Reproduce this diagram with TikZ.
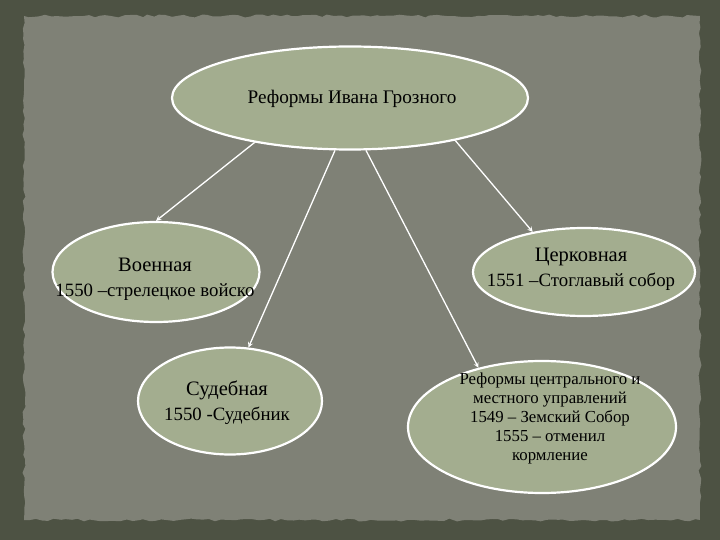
\documentclass[tikz,border=0pt]{standalone}
\usepackage{fontspec}
\setmainfont{Liberation Serif}
\usetikzlibrary{arrows, shapes.geometric, decorations.pathmorphing}
\definecolor{paper}{HTML}{7F8176}
\definecolor{frame}{HTML}{4D5243}
\definecolor{leaf}{HTML}{A3AD8F}
\tikzset{
	reform/.style={ellipse, draw=white, line width=2.2pt, fill=leaf, inner sep=0pt},
	txt/.style={align=center, inner sep=0pt, text=black},
	arr/.style={draw=white, line width=1.3pt, ->, -stealth},
}
\newcommand{\headfont}{\fontsize{20.5}{25}\selectfont}
\newcommand{\datefont}{\fontsize{18.8}{22}\selectfont}
\newcommand{\lowfont}{\fontsize{16.8}{19}\selectfont}

\begin{document}
\begin{tikzpicture}[x=1pt, y=-1pt]
		\useasboundingbox (0,0) rectangle (720,540);
			%background:
			\fill[frame] (0,0) rectangle (720,540);
			\fill[paper, decorate, decoration={random steps, segment length=6pt, amplitude=1.5pt}] (24,16) rectangle (700,520);

			%reforms:
			\node[reform, minimum width=356pt, minimum height=103pt] (main) at (350,98) {};
			\node[reform, minimum width=207pt, minimum height=100pt] (voen) at (156,272) {};
			\node[reform, minimum width=222pt, minimum height=88pt] (cerk) at (584,272) {};
			\node[reform, minimum width=184pt, minimum height=107pt] (sud) at (230,401) {};
			\node[reform, minimum width=268pt, minimum height=132pt] (upr) at (542,427) {};

			%texts:
			\node[txt, font=\fontsize{19.2}{22}\selectfont] (maintxt) at (352,99) {Реформы Ивана Грозного};
			\node[txt, font=\headfont] (voentxt) at (155,279) {Военная\\ \datefont 1550 –стрелецкое войско};
			\node[txt, font=\headfont] (cerktxt) at (581,269) {Церковная\\ \datefont 1551 –Стоглавый собор};
			\node[txt, font=\headfont] (sudtxt) at (227,403) {Судебная\\ \datefont 1550 -Судебник};
			\node[txt, font=\lowfont] (uprtxt) at (550,418) {Реформы центрального и\\ местного управлений\\ 1549 – Земский Собор\\ 1555 – отменил\\ кормление};

			%arrows:
			\draw[arr] (main.205) -- (voen.north);
			\draw[arr] (main.254) -- (sud.71);
			\draw[arr] (main.287) -- (upr.137);
			\draw[arr] (main.338) -- (cerk.142);
	\end{tikzpicture}
\end{document}
